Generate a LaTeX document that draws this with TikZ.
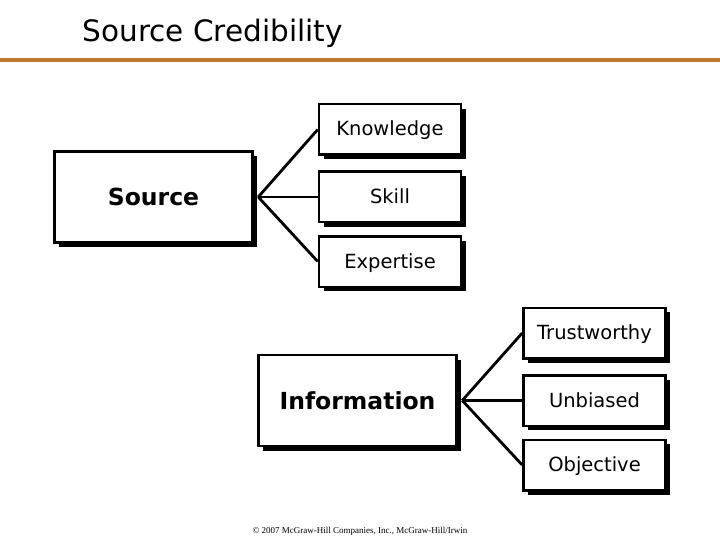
\documentclass[tikz,border=0pt]{standalone}
\usepackage{fontspec}
\setmainfont{DejaVu Sans}
\newfontfamily\copyfont{Liberation Serif}
\usetikzlibrary{shadows}
\definecolor{rule}{RGB}{193,120,45}
\tikzset{
  box/.style={draw, line width=2.5pt, fill=white, inner sep=0pt,
    drop shadow={shadow xshift=4.5pt, shadow yshift=-4.5pt, fill=black, opacity=1}},
  bigbox/.style={box, minimum width=198pt, minimum height=91pt,
    text height=17pt, text depth=0pt,
    font=\fontsize{23.5}{26}\selectfont\bfseries},
  smallbox/.style={box, minimum width=142pt, minimum height=50.5pt,
    text height=14pt, text depth=1pt,
    font=\fontsize{19.5}{22}\selectfont},
  link/.style={line width=2.8pt}
}
\begin{document}
\begin{tikzpicture}[x=1pt,y=-1pt]
\useasboundingbox[fill=white] (0,0) rectangle (720,540);
\node[anchor=base west, font=\fontsize{29.5}{32}\selectfont] (title) at (79,42) {Source Credibility};
\draw[rule, line width=4pt] (0,60) -- (720,60);

\node[bigbox] (src) at (153.5,197) {Source};
\node[smallbox] (kn) at (390,129.5) {Knowledge};
\node[smallbox] (sk) at (390,197) {Skill};
\node[smallbox] (ex) at (390,261.5) {Expertise};
\coordinate (sj) at ([xshift=4.5pt]src.east);
\draw[link] (sj) -- (kn.west);
\draw[link] (sj) -- (sk.west);
\draw[link] (sj) -- (ex.west);

\node[bigbox] (inf) at (357.5,400.5) {Information};
\node[smallbox] (tr) at (594.5,333) {Trustworthy};
\node[smallbox] (ub) at (594.5,400.5) {Unbiased};
\node[smallbox] (ob) at (594.5,465) {Objective};
\coordinate (ij) at ([xshift=4.5pt]inf.east);
\draw[link] (ij) -- (tr.west);
\draw[link] (ij) -- (ub.west);
\draw[link] (ij) -- (ob.west);

\node[anchor=base, font=\copyfont\fontsize{9}{10}\selectfont] (copy) at (360,533) {© 2007 McGraw-Hill Companies, Inc., McGraw-Hill/Irwin};
\end{tikzpicture}
\end{document}
